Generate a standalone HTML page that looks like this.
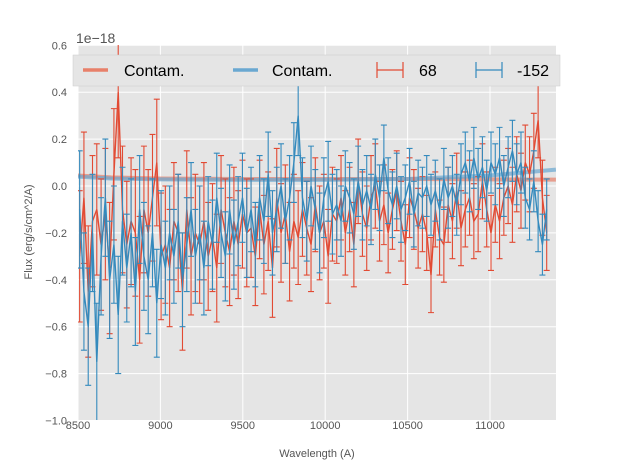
<!DOCTYPE html>
<html><head><meta charset="utf-8"><style>
body{margin:0;background:#fff;}
svg{display:block;font-family:"Liberation Sans",sans-serif;}
</style></head><body>
<svg id="c" width="617" height="467">
<defs><clipPath id="clip"><rect x="78" y="45" width="478" height="375"/></clipPath></defs>
<rect x="78" y="45" width="478" height="375" fill="#e5e5e5"/>
<g id="grid"></g><g id="ticks"></g><g id="series" clip-path="url(#clip)"></g>
<text x="76" y="43" font-size="14" fill="#555">1e−18</text>
<text x="317" y="457" font-size="11" fill="#555" text-anchor="middle">Wavelength (A)</text>
<text transform="translate(32,232) rotate(-90)" font-size="11" fill="#555" text-anchor="middle">Flux (erg/s/cm^2/A)</text>
<g>
<rect x="73" y="55" width="487" height="31" fill="#e5e5e5" stroke="#ccc" stroke-width="0.5"/>
<g><line x1="83" y1="70" x2="108" y2="70" stroke="#e8806a" stroke-width="3.5"/><text x="124" y="76" font-size="16">Contam.</text></g>
<g><line x1="233" y1="70" x2="258" y2="70" stroke="#6aa8d1" stroke-width="3.5"/><text x="272" y="76" font-size="16">Contam.</text></g>
<g stroke="#e24a33" stroke-width="1.2"><line x1="377" y1="70" x2="403" y2="70"/><line x1="377" y1="62" x2="377" y2="78"/><line x1="403" y1="62" x2="403" y2="78"/><text x="419" y="76" font-size="16" stroke="none" fill="#000">68</text></g>
<g stroke="#348abd" stroke-width="1.2"><line x1="476" y1="70" x2="502" y2="70"/><line x1="476" y1="62" x2="476" y2="78"/><line x1="502" y1="62" x2="502" y2="78"/><text x="517" y="76" font-size="16" stroke="none" fill="#000">-152</text></g>
</g>
</svg>
<script>
const xTicks=[8500,9000,9500,10000,10500,11000];
const yTicks=[0.6,0.4,0.2,0.0,-0.2,-0.4,-0.6,-0.8,-1.0];
const yTickLabels=["0.6","0.4","0.2","0.0","−0.2","−0.4","−0.6","−0.8","−1.0"];
const wave0=8510, waveStep=26;
const redFlux=[-0.30,-0.05,-0.45,-0.15,-0.10,-0.25,-0.12,-0.35,0.05,0.40,-0.10,-0.25,-0.15,-0.20,-0.40,-0.10,-0.20,-0.05,0.10,-0.30,
-0.25,-0.35,-0.15,-0.20,-0.45,-0.10,-0.30,-0.20,-0.25,-0.15,-0.30,-0.22,-0.35,-0.10,-0.20,-0.28,-0.15,-0.25,-0.12,-0.20,
-0.18,-0.30,-0.10,-0.25,-0.15,-0.35,-0.05,-0.20,-0.12,-0.28,-0.15,-0.22,-0.10,-0.18,-0.25,-0.08,-0.20,-0.15,-0.30,-0.12,
-0.15,-0.05,-0.20,-0.10,-0.25,0.02,-0.12,-0.18,-0.05,0.00,-0.15,-0.08,-0.20,-0.10,-0.02,-0.15,-0.25,-0.05,-0.10,-0.18,
-0.12,-0.20,-0.38,-0.10,-0.22,-0.25,-0.08,-0.15,-0.02,-0.18,-0.10,-0.05,-0.15,-0.12,0.02,-0.10,-0.20,-0.08,-0.15,-0.05,
0.00,-0.08,0.05,-0.02,0.10,0.05,0.15,0.28,-0.05,-0.20];
const blueFlux=[-0.10,-0.45,-0.60,-0.20,-0.75,-0.30,-0.05,-0.40,-0.25,-0.55,-0.15,-0.35,-0.20,-0.45,-0.10,-0.30,-0.40,-0.20,-0.50,-0.25,
-0.35,-0.20,-0.30,-0.15,-0.40,-0.25,-0.10,-0.30,-0.20,-0.35,-0.15,-0.25,-0.05,-0.20,-0.30,-0.10,-0.25,-0.15,-0.05,-0.20,
-0.10,-0.25,-0.05,-0.15,0.05,-0.20,-0.10,0.00,-0.15,-0.05,0.10,0.30,-0.05,-0.15,0.00,-0.10,-0.20,-0.05,0.02,-0.12,
-0.08,-0.15,0.00,-0.05,-0.12,0.02,-0.08,-0.02,-0.10,0.05,-0.05,0.12,-0.02,-0.08,0.00,-0.10,-0.05,0.02,-0.12,-0.03,
-0.05,0.00,-0.08,-0.02,-0.10,0.03,-0.05,0.00,-0.08,0.05,0.10,0.02,0.12,0.03,0.08,-0.02,0.10,0.05,0.12,0.00,
0.08,0.15,0.05,0.10,-0.05,-0.10,0.02,-0.15,-0.25,-0.10];
const redErr=[0.28,0.27,0.25,0.23,0.21,0.2,0.18,0.17,0.16,0.16,0.16];
const blueErr=[0.25,0.23,0.2,0.19,0.18,0.17,0.15,0.14,0.13,0.13,0.13];
const contamWave=[8500,8700,9000,9500,10000,10500,11000,11400];
const contamRed=[0.045,0.037,0.032,0.030,0.030,0.030,0.028,0.027];
const contamBlue=[0.040,0.032,0.028,0.026,0.026,0.030,0.045,0.070];

const NS="http://www.w3.org/2000/svg";
const X=w=>78+(w-8500)*412/2500;
const Y=v=>186-v*234.5;
function mk(tag,attrs,parent){const e=document.createElementNS(NS,tag);for(const k in attrs)e.setAttribute(k,attrs[k]);parent.appendChild(e);return e;}
const grid=document.getElementById('grid'),ticks=document.getElementById('ticks'),ser=document.getElementById('series');
xTicks.forEach(t=>{
 const l=mk('line',{x1:X(t),x2:X(t),y1:45,y2:420,stroke:'#fff','stroke-width':1},grid);
 
 
 const tx=mk('text',{x:X(t),y:429,'font-size':11,fill:'#555','text-anchor':'middle'},ticks);
 tx.textContent=t;
 
 
});
yTicks.forEach((t,i)=>{
 const l=mk('line',{x1:78,x2:556,y1:Y(t),y2:Y(t),stroke:'#fff','stroke-width':1},grid);
 
 
 const tx=mk('text',{x:67,y:Y(t)+4,'font-size':11,fill:'#555','text-anchor':'end'},ticks);
 tx.textContent=yTickLabels[i];
 
 
});
function contam(vals,color,name){
 const p=mk('polyline',{points:contamWave.map((w,i)=>X(w)+','+Y(vals[i])).join(' '),fill:'none',stroke:color,'stroke-width':4,'stroke-opacity':0.7},ser);
 
 
}
contam(contamRed,'#e8806a','contam-line-red');
contam(contamBlue,'#6aa8d1','contam-line-blue');
function errSeries(vals,errs,color,name){
 const g=mk('g',{stroke:color,'stroke-width':1.1,fill:'none'},ser);
 
 
 vals.forEach((v,i)=>{
  const x=X(wave0+i*waveStep),e=errs[Math.floor(i/10)];
  const y1=Y(v+e),y2=Y(v-e);
  const b=mk('path',{d:`M${x},${y1}V${y2}M${x-3},${y1}H${x+3}M${x-3},${y2}H${x+3}`},g);
  
  
 });
 const p=mk('polyline',{points:vals.map((v,i)=>X(wave0+i*waveStep)+','+Y(v)).join(' '),'stroke-width':1.4},g);
 
 
}
errSeries(redFlux,redErr,'#e24a33','series-68');
errSeries(blueFlux,blueErr,'#348abd','series-minus152');
</script>
</body></html>
